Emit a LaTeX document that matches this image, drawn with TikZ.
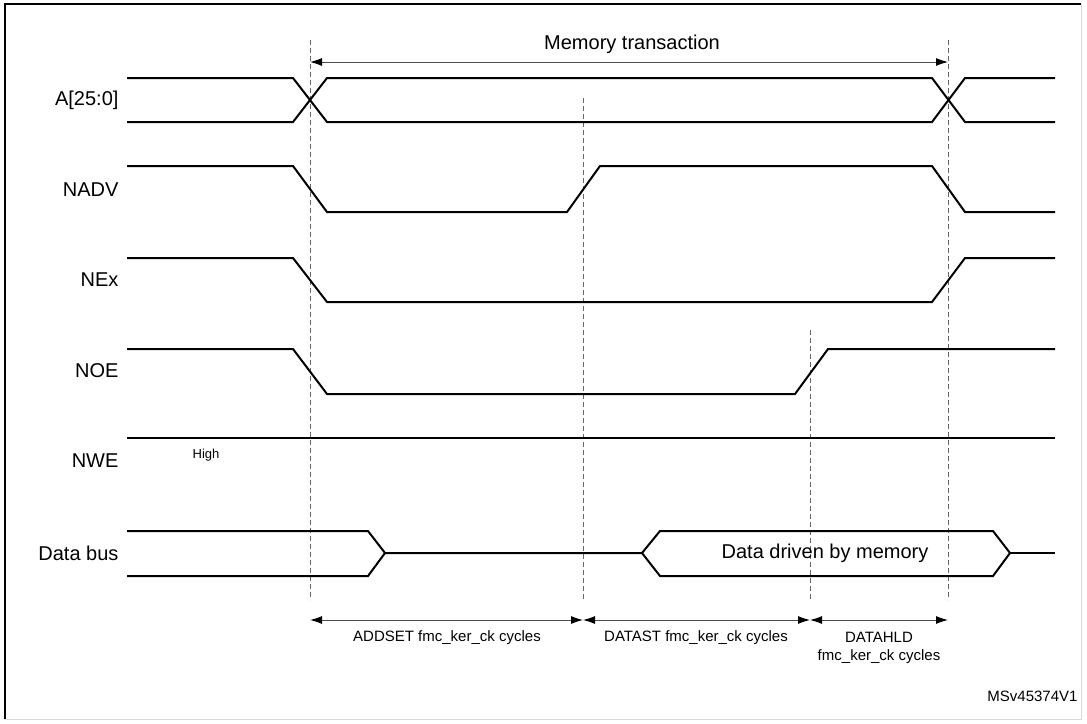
\documentclass[tikz,border=0pt]{standalone}
\usepackage{fontspec}
\setmainfont{Liberation Sans}
\usetikzlibrary{arrows.meta}
\begin{document}
\begin{tikzpicture}[x=1pt,y=-1pt,
  sig/.style={line width=2pt,black},
  vd/.style={dash pattern=on 5pt off 3pt,gray!80!black,line width=1pt},
  dim/.style={line width=1pt,gray!60!black,{Latex[length=12pt,width=8pt,black]}-{Latex[length=12pt,width=8pt,black]}},
  lab/.style={anchor=east,font=\fontsize{20}{22}\selectfont},
  sm/.style={font=\fontsize{15}{17}\selectfont}]
\useasboundingbox (0,0) rectangle (1087,723);
\draw[line width=2.5pt] (5,719) -- (5,4) -- (1081,4);
\draw[gray!30,line width=1pt] (1081,4) -- (1081,719) -- (5,719);
% dashed verticals
\coordinate (t0) at (310,40); \coordinate (b0) at (310,600);
\coordinate (t1) at (583,98); \coordinate (b1) at (583,600);
\coordinate (t2) at (810,330); \coordinate (b2) at (810,600);
\coordinate (t3) at (948,40); \coordinate (b3) at (948,600);
\draw[vd] (t0)--(b0); \draw[vd] (t1)--(b1); \draw[vd] (t2)--(b2); \draw[vd] (t3)--(b3);
% labels
\node[lab] (la) at (122,100) {A[25:0]};
\node[lab] (lb) at (122,190) {NADV};
\node[lab] (lc) at (122,280) {NEx};
\node[lab] (ld) at (122,371) {NOE};
\node[lab] (le) at (122,461) {NWE};
\node[lab] (lf) at (122,553) {Data bus};
\node[font=\fontsize{13}{15}\selectfont] (hi) at (206,455) {High};
% A
\draw[sig] (127,78) -- (293,78) -- (327,122) -- (932,122) -- (965,78) -- (1055,78);
\draw[sig] (127,122) -- (293,122) -- (327,78) -- (932,78) -- (965,122) -- (1055,122);
% NADV
\draw[sig] (127,166) -- (293,166) -- (327,212) -- (567,212) -- (600,166) -- (932,166) -- (965,212) -- (1055,212);
% NEx
\draw[sig] (127,258) -- (293,258) -- (327,302) -- (932,302) -- (965,258) -- (1055,258);
% NOE
\draw[sig] (127,349) -- (293,349) -- (327,394) -- (795,394) -- (828,349) -- (1055,349);
% NWE
\draw[sig] (127,438) -- (1055,438);
% Data bus
\draw[sig] (127,531) -- (368,531) -- (385,553) -- (368,576) -- (127,576);
\draw[sig] (385,553) -- (642,553) -- (660,531) -- (993,531) -- (1010,553) -- (993,576) -- (660,576) -- (642,553);
\draw[sig] (1010,553) -- (1055,553);
\node[font=\fontsize{20}{22}\selectfont] (dd) at (825,553) {Data driven by memory};
% arrows
\draw[dim] (t0|-0,62) -- (t3|-0,62);
\node[font=\fontsize{20}{22}\selectfont] (mt) at (632,44) {Memory transaction};
\draw[dim] (b0|-0,620) -- (b1|-0,620);
\draw[dim] (b1|-0,620) -- (b2|-0,620);
\draw[dim] (b2|-0,620) -- (b3|-0,620);
\node[sm] (a1) at (447,638) {ADDSET fmc\_ker\_ck cycles};
\node[sm] (a2) at (696,638) {DATAST fmc\_ker\_ck cycles};
\node[sm] (a3) at (879,637) {DATAHLD};
\node[sm] (a4) at (879,657) {fmc\_ker\_ck cycles};
\node[sm,anchor=east] (ms) at (1081,696) {MSv45374V1};
\end{tikzpicture}
\end{document}
